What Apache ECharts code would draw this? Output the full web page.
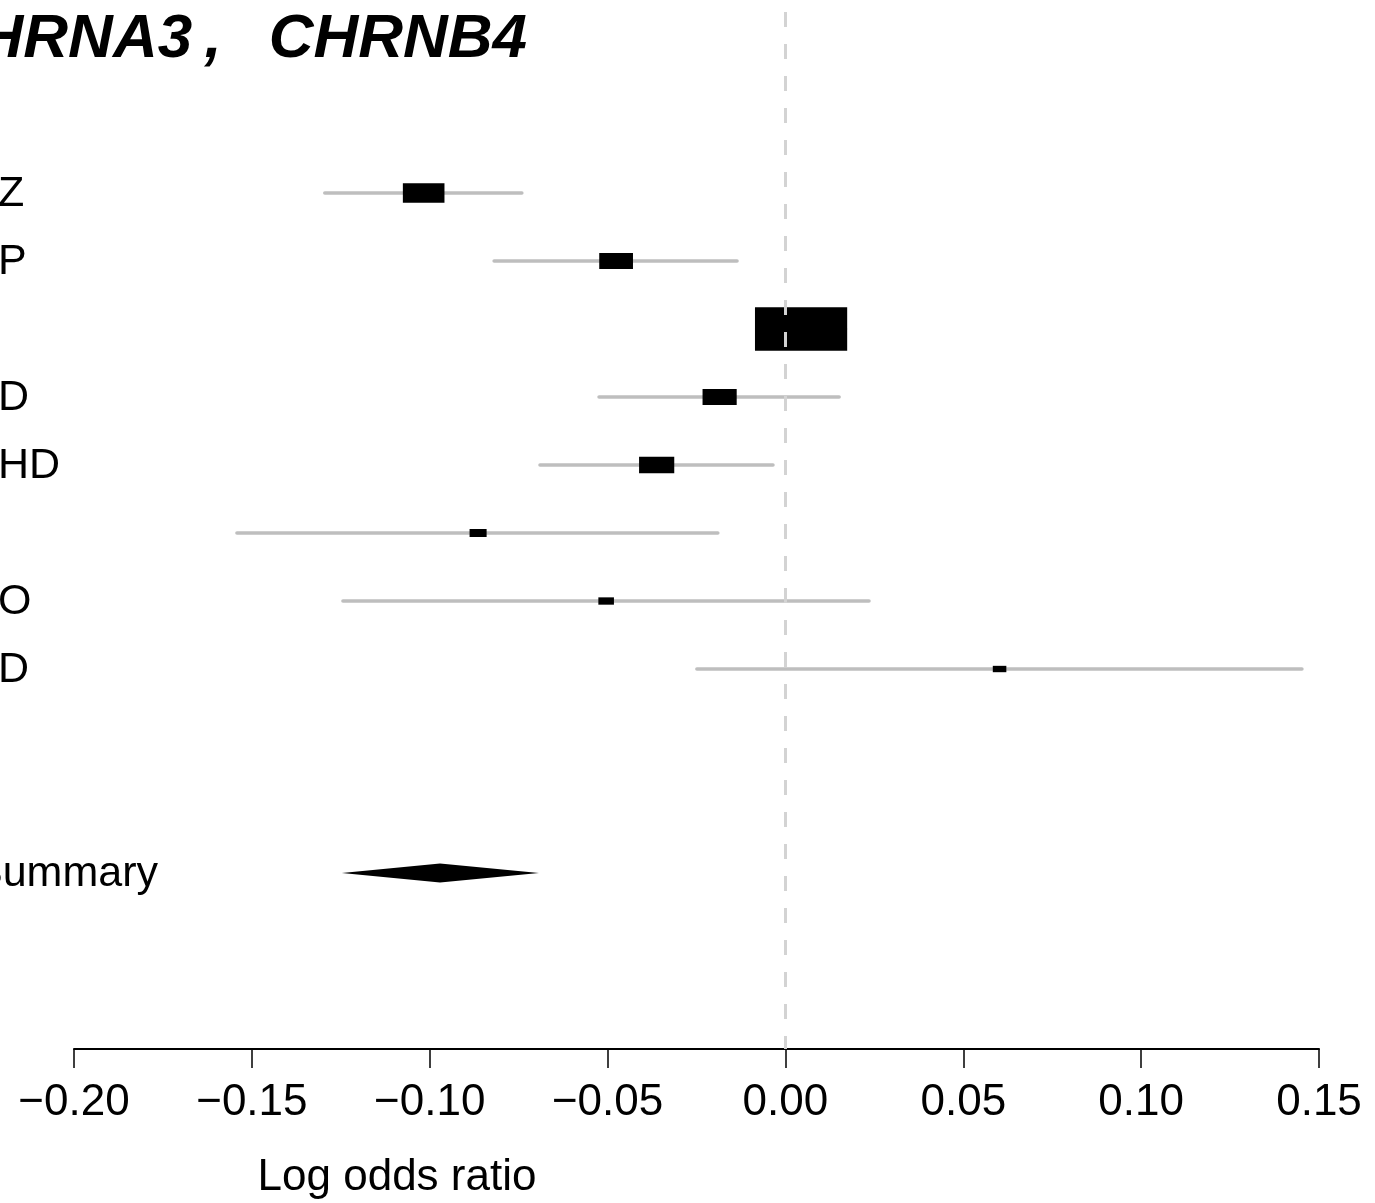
<!DOCTYPE html>
<html>
<head>
<meta charset="utf-8">
<script src="https://cdn.jsdelivr.net/npm/echarts@6/dist/echarts.min.js"></script>
<style>
html,body{margin:0;padding:0;background:#fff;}
#chart{width:1375px;height:1203px;}
</style>
</head>
<body>
<div id="chart"></div>
<script>
// ---- data (labels are truncated on the left in the original) ----
const studyLabels = ["Z", "P", "", "D", "HD", "", "O", "D"];
const studyRows = [0, 1, 2, 3, 4, 5, 6, 7];
const estimates = [-0.1017, -0.0476, 0.0044, -0.0185, -0.0362, -0.0864, -0.0504, 0.0602];
const lowerCI   = [-0.1295, -0.0819, -0.0081, -0.0524, -0.0690, -0.1542, -0.1244, -0.0249];
const upperCI   = [-0.0741, -0.0136,  0.0169,  0.0151, -0.0035, -0.0190,  0.0235,  0.1452];

const summaryLabel = "Summary";
const summaryRow = 10;
const summaryEstimate = -0.0971;
const summaryLower = -0.1247;
const summaryUpper = -0.0693;

const xTickValues = [-0.20, -0.15, -0.10, -0.05, 0.00, 0.05, 0.10, 0.15];
const titleText = "CHRNA3\u2009,  \u2009CHRNB4";
const xAxisTitle = "Log odds ratio";
const referenceValue = 0;

// ---- build ----
const FONT = '"Liberation Sans", Arial, Helvetica, sans-serif';
const studyData = studyRows.map((r, i) => [estimates[i], lowerCI[i], upperCI[i], r]);

const chart = echarts.init(document.getElementById('chart'), null, {renderer: 'canvas'});

function renderStudy(params, api) {
  const row = api.value(3);
  const c = api.coord([api.value(0), row]);
  const l = api.coord([api.value(1), row]);
  const u = api.coord([api.value(2), row]);
  const ciPx = u[0] - l[0];
  const w = 8200 / ciPx;        // box size inversely proportional to CI width (precision)
  const h = w * 0.47;
  return {
    type: 'group',
    children: [
      {type: 'line', shape: {x1: l[0], y1: c[1], x2: u[0], y2: c[1]},
       style: {stroke: '#bebebe', lineWidth: 3.5, lineCap: 'round'}},
      {type: 'rect', shape: {x: c[0] - w / 2, y: c[1] - h / 2, width: w, height: h},
       style: {fill: '#000'}},
      {type: 'text', x: -2, y: c[1] + 1,
       style: {text: studyLabels[params.dataIndex], fontSize: 43, fontFamily: FONT,
               fill: '#000', align: 'left', verticalAlign: 'middle'}}
    ]
  };
}

function renderSummary(params, api) {
  const row = api.value(3);
  const c = api.coord([api.value(0), row]);
  const l = api.coord([api.value(1), row]);
  const u = api.coord([api.value(2), row]);
  const hh = 9.5;
  return {
    type: 'group',
    children: [
      {type: 'polygon',
       shape: {points: [[l[0], c[1]], [c[0], c[1] - hh], [u[0], c[1]], [c[0], c[1] + hh]]},
       style: {fill: '#000'}},
      {type: 'text', x: -26, y: c[1] + 1,
       style: {text: summaryLabel, fontSize: 43, fontFamily: FONT,
               fill: '#000', align: 'left', verticalAlign: 'middle'}}
    ]
  };
}

const option = {
  animation: false,
  backgroundColor: '#fff',
  grid: {left: 74, right: 56, top: 12, bottom: 154, containLabel: false},
  xAxis: {
    type: 'value',
    min: xTickValues[0],
    max: xTickValues[xTickValues.length - 1],
    interval: 0.05,
    splitLine: {show: false},
    axisLine: {show: true, onZero: false, lineStyle: {color: '#000', width: 2}},
    axisTick: {show: true, inside: false, length: 19, lineStyle: {color: '#000', width: 1.5}},
    axisLabel: {
      margin: 32,
      fontSize: 44, fontFamily: FONT, color: '#000',
      formatter: v => (v < 0 ? '\u2212' : '') + Math.abs(v).toFixed(2)
    }
  },
  yAxis: {
    type: 'value', inverse: true, min: -2.662, max: 12.588,
    show: false
  },
  graphic: [
    {type: 'text', x: 527, y: 40, z: 10,
     style: {text: titleText, fontSize: 62, fontWeight: 'bold', fontStyle: 'italic',
             fontFamily: FONT, fill: '#000', align: 'right', verticalAlign: 'middle'}},
    {type: 'text', x: 397, y: 1178, z: 10,
     style: {text: xAxisTitle, fontSize: 44, fontFamily: FONT, fill: '#000',
             align: 'center', verticalAlign: 'middle'}}
  ],
  series: [
    {
      type: 'line', data: [], z: 1, silent: true,
      markLine: {
        silent: true, symbol: 'none', label: {show: false},
        lineStyle: {color: '#d3d3d3', width: 3, type: [15, 17]},
        data: [{xAxis: referenceValue}]
      }
    },
    {
      type: 'custom', z: 2, renderItem: renderStudy, clip: false,
      encode: {x: [0, 1, 2], y: 3},
      data: studyData
    },
    {
      type: 'custom', z: 3, renderItem: renderSummary, clip: false,
      encode: {x: [0, 1, 2], y: 3},
      data: [[summaryEstimate, summaryLower, summaryUpper, summaryRow]]
    }
  ]
};
chart.setOption(option);
</script>
</body>
</html>
